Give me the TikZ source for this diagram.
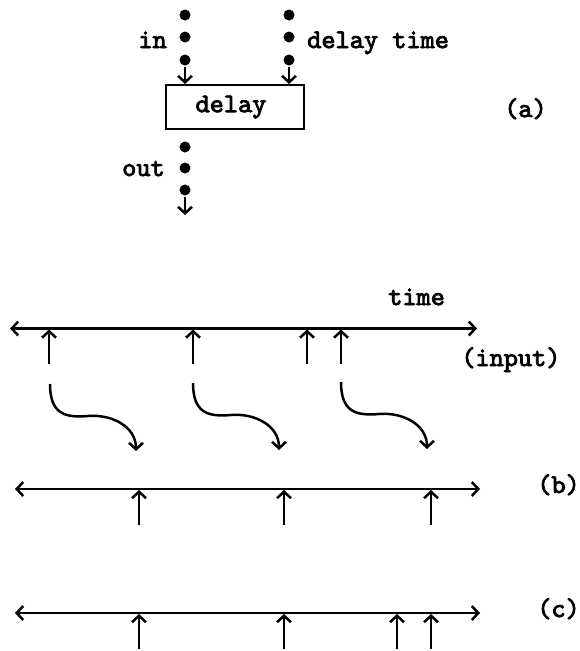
\documentclass[tikz,border=0pt]{standalone}
\usepackage{fontspec}
\newfontfamily\courb[FakeBold=3]{lmmono10-regular.otf}
\usetikzlibrary{arrows.meta}
\begin{document}
\begin{tikzpicture}[x=1pt,y=-1pt, line width=2.5pt,
  tip/.style={-{Straight Barb[length=6.5pt,width=14pt]}},
  dtip/.style={{Straight Barb[length=6.5pt,width=14pt]}-{Straight Barb[length=6.5pt,width=14pt]}},
  lbl/.style={font=\courb\fontsize{27}{30}\selectfont, inner sep=0pt},
  dot/.style={circle, fill, inner sep=0pt, minimum size=11pt},
  boxst/.style={draw, line width=2pt, minimum width=138pt, minimum height=44pt, inner sep=0pt}]
\useasboundingbox (0,0) rectangle (579,651);

% (a) delay object
\node[boxst, lbl] (box) at (235,107) {\hspace*{-8pt}delay};
\node[dot] (i1) at (185,15) {};
\node[dot] (i2) at (185,37) {};
\node[dot] (i3) at (185,60) {};
\node[dot] (d1) at (289,15) {};
\node[dot] (d2) at (289,37) {};
\node[dot] (d3) at (289,60) {};
\node[dot] (o1) at (185,147) {};
\node[dot] (o2) at (185,168) {};
\node[dot] (o3) at (185,190) {};
\coordinate (oend) at (185,215);
\draw[tip] (i3) -- (i3 |- box.north);
\draw[tip] (d3) -- (d3 |- box.north);
\draw[tip] (o3) -- (oend);
\node[lbl, anchor=base east] (inl) at (168,48) {in};
\node[lbl, anchor=base west] (dtl) at (306,48) {delay time};
\node[lbl, anchor=base east] (outl) at (166,176) {out};
\node[lbl, anchor=base west] (al) at (503,117) {(a)};

% input time line
\coordinate (tL) at (10,328.5);
\coordinate (tR) at (477,328.5);
\draw[dtip] (tL) -- (tR);
\foreach \x in {49,193,307,341} \draw[tip] (\x,364) -- (\x,329.5);
\node[lbl, anchor=base west] (timel) at (387,305) {time};
\node[lbl, anchor=base west] (inpl) at (460,366) {(input)};

% wavy delay arrows
\foreach \sx/\sy in {50/384, 193/383, 341/382}
  \draw[tip] (\sx,\sy) .. controls +(0,30) and +(-23,2) .. ++(38,32)
                       .. controls +(23,-2) and +(0,-25) .. ++(48,35);

% (b)
\coordinate (bL) at (15,489);
\coordinate (bR) at (480,489);
\draw[dtip] (bL) -- (bR);
\foreach \x in {139,284,431} \draw[tip] (\x,525) -- (\x,490);
\node[lbl, anchor=base west] (bl) at (536,493) {(b)};

% (c)
\coordinate (cL) at (15,613);
\coordinate (cR) at (480,613);
\draw[dtip] (cL) -- (cR);
\foreach \x in {139,284,397,431} \draw[tip] (\x,649) -- (\x,614);
\node[lbl, anchor=base west] (cl) at (536,617) {(c)};
\end{tikzpicture}
\end{document}
